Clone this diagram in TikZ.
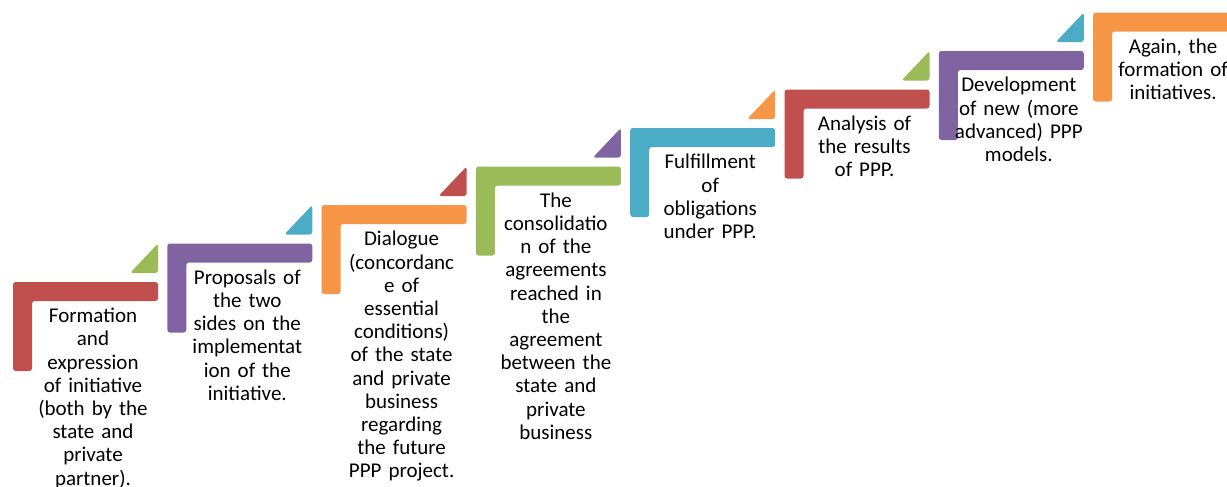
\documentclass[tikz,border=0pt]{standalone}
\usepackage{fontspec}
\setmainfont{Carlito}
\definecolor{StepRed}{HTML}{C0504D}
\definecolor{StepPurple}{HTML}{8064A2}
\definecolor{StepOrange}{HTML}{F79646}
\definecolor{StepGreen}{HTML}{9BBB59}
\definecolor{StepBlue}{HTML}{4BACC6}
\tikzset{
  every picture/.style={font={\fontsize{15.75}{17.4}\selectfont}},
  stair/.style={rounded corners=2pt},
  steptext/.style={anchor=north, text width=105pt, align=center, inner sep=0pt}}

\begin{document}
\begin{tikzpicture}[x=0.75pt, y=-0.75pt]
    \useasboundingbox (0,0) rectangle (1227,486);
    \clip (0,0) rectangle (1227,486);

    % the stairs
    \foreach \i/\col in {0/StepRed, 1/StepPurple, 2/StepOrange, 3/StepGreen,
                         4/StepBlue, 5/StepRed, 6/StepPurple, 7/StepOrange} {
      \pgfmathsetmacro\x{13+154.3*\i}
      \pgfmathsetmacro\y{282-38.5*\i}
      \fill[\col, stair] (\x,\y) -- ++(145,0) -- ++(0,19) -- ++(-126,0)
        -- ++(0,70) -- ++(-19,0) -- cycle;
    }

    % the small corners between the stairs
    \foreach \i/\col in {0/StepGreen, 1/StepBlue, 2/StepRed, 3/StepPurple,
                         4/StepOrange, 5/StepGreen, 6/StepBlue} {
      \pgfmathsetmacro\x{158+154.3*\i}
      \pgfmathsetmacro\y{273-38.5*\i}
      \fill[\col, stair] (\x,\y) -- ++(-28,0) -- ++(28,-29.5) -- cycle;
    }

    \node[steptext] (formation) at (93, 308)
      {Formation\\and\\expression\\of initiative\\(both by the\\state and\\private\\partner).};
    \node[steptext] (proposals) at (247.3, 269.5)
      {Proposals of\\the two\\sides on the\\implementat\\ion of the\\initiative.};
    \node[steptext] (dialogue) at (401.6, 231)
      {Dialogue\\(concordanc\\e of\\essential\\conditions)\\of the state\\and private\\business\\regarding\\the future\\PPP project.};
    \node[steptext] (consolidation) at (555.9, 192.5)
      {The\\consolidatio\\n of the\\agreements\\reached in\\the\\agreement\\between the\\state and\\private\\business};
    \node[steptext] (fulfillment) at (710.2, 154)
      {Fulfillment\\of\\obligations\\under PPP.};
    \node[steptext] (analysis) at (864.5, 115.5)
      {Analysis of\\the results\\of PPP.};
    \node[steptext] (development) at (1018.8, 77)
      {Development\\of new (more\\advanced) PPP\\models.};
    \node[steptext] (again) at (1173.1, 38.5)
      {Again, the\\formation of\\initiatives.};
  \end{tikzpicture}
\end{document}
